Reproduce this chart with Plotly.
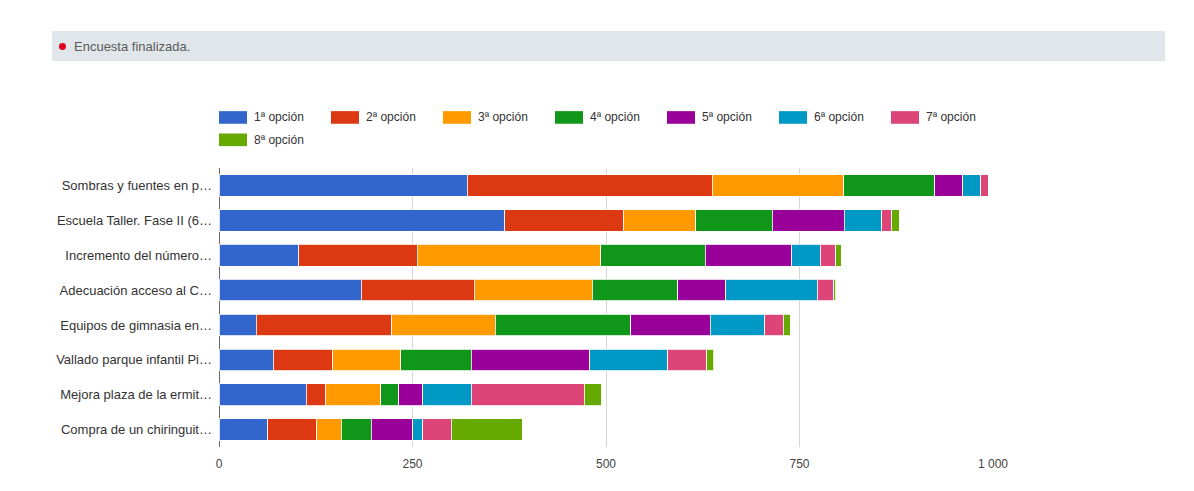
import plotly.graph_objects as go

categories = [
    "Sombras y fuentes en p…",
    "Escuela Taller. Fase II (6…",
    "Incremento del número…",
    "Adecuación acceso al C…",
    "Equipos de gimnasia en…",
    "Vallado parque infantil Pi…",
    "Mejora plaza de la ermit…",
    "Compra de un chiringuit…",
]
series_names = ["1ª opción", "2ª opción", "3ª opción", "4ª opción",
                "5ª opción", "6ª opción", "7ª opción", "8ª opción"]
opcion1 = [321, 369, 103, 184, 48, 70, 113, 63]
opcion2 = [316, 154, 153, 146, 175, 77, 25, 63]
opcion3 = [170, 93, 237, 152, 134, 88, 71, 32]
opcion4 = [118, 99, 135, 111, 175, 91, 23, 39]
opcion5 = [36, 93, 112, 62, 103, 153, 31, 53]
opcion6 = [23, 48, 37, 118, 70, 101, 63, 13]
opcion7 = [10, 13, 20, 21, 24, 50, 146, 37]
opcion8 = [0, 10, 7, 3, 9, 9, 22, 92]
tick_vals = [0, 250, 500, 750, 1000]
tick_text = ["0", "250", "500", "750", "1 000"]

colors = ["#3366cc", "#dc3912", "#ff9900", "#109618",
          "#990099", "#0099c6", "#dd4477", "#66aa00"]
all_series = [opcion1, opcion2, opcion3, opcion4, opcion5, opcion6, opcion7, opcion8]

FONT = "Arial, Liberation Sans, sans-serif"
OFF = 8  # body margin of the html page
W, H = 1194 - 2 * OFF, 491 - 2 * OFF
L, R, T, B = 219 - OFF, W - (993 - OFF), 168 - OFF, H - (455 - OFF)
PW, PH = W - L - R, H - T - B


def px(x):
    return (x - OFF - L) / PW


def py(y):
    return 1 - (y - OFF - T) / PH


fig = go.Figure()
for name, vals, col in zip(series_names, all_series, colors):
    fig.add_trace(go.Bar(
        y=categories, x=vals, name=name, orientation="h",
        marker=dict(color=col, line=dict(color="rgba(255,255,255,0.8)", width=1)),
        showlegend=False,
    ))

shapes = []
annotations = []
# status banner
shapes.append(dict(type="rect", xref="paper", yref="paper",
                   x0=px(52), x1=px(1165), y0=py(58), y1=py(27),
                   fillcolor="#e1e6ea", line=dict(width=0), layer="below"))
shapes.append(dict(type="circle", xref="paper", yref="paper",
                   x0=px(59), x1=px(66), y0=py(46.5), y1=py(39.5),
                   fillcolor="#e0001b", line=dict(width=0)))
annotations.append(dict(text="Encuesta finalizada.", xref="paper", yref="paper",
                        x=px(72), y=py(43), xanchor="left", yanchor="middle",
                        showarrow=False, font=dict(family=FONT, size=13, color="#5a5a5a")))

# legend (manual, Google-style wide boxes)
for i, (name, col) in enumerate(zip(series_names, colors)):
    row, colpos = divmod(i, 7)
    bx = 219 + colpos * 112
    cy = 116 + row * 23
    shapes.append(dict(type="rect", xref="paper", yref="paper",
                       x0=px(bx), x1=px(bx + 28), y0=py(cy + 6.5), y1=py(cy - 6.5),
                       fillcolor=col, line=dict(width=0)))
    annotations.append(dict(text=name, xref="paper", yref="paper",
                            x=px(bx + 33), y=py(cy), xanchor="left", yanchor="middle",
                            showarrow=False, font=dict(family=FONT, size=12, color="#333333")))

fig.update_layout(
    barmode="stack",
    bargap=0.38,
    width=W, height=H,
    margin=dict(l=L, r=R, t=T, b=B, pad=0),
    paper_bgcolor="white", plot_bgcolor="white",
    font=dict(family=FONT, size=12, color="#222222"),
    shapes=shapes, annotations=annotations,
    xaxis=dict(range=[0, 1000], tickvals=tick_vals, ticktext=tick_text,
               showgrid=True, gridcolor="#d6d6d6", gridwidth=1,
               zeroline=True, zerolinecolor="#666666", zerolinewidth=1,
               showline=False, ticks="", tickfont=dict(size=12, color="#444444"),
               ticklabelstandoff=8),
    yaxis=dict(autorange="reversed", showgrid=False, ticks="", showline=False,
               tickfont=dict(size=13, color="#333333"), ticklabelstandoff=6),
)

fig.write_html("out.html")
